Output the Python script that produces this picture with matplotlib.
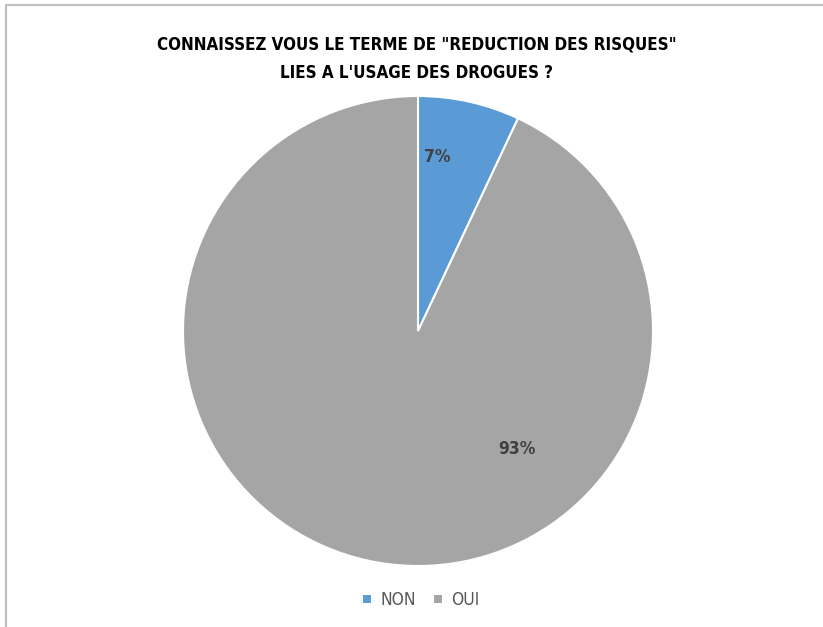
import matplotlib.pyplot as plt
from matplotlib.patches import Rectangle

labels = ['NON', 'OUI']
values = [7, 93]
colors = ['#5B9BD5', '#A5A5A5']
title = 'CONNAISSEZ VOUS LE TERME DE "REDUCTION DES RISQUES"\nLIES A L\'USAGE DES DROGUES ?'

plt.rcParams['font.family'] = ['DejaVu Sans']
plt.rcParams['font.stretch'] = 'condensed'

fig = plt.figure(figsize=(8.23, 6.27), dpi=100)

# chart area border (only top and left edges show)
fig.patches.append(Rectangle((6 / 823, -0.1), 1.2, (627 - 5) / 627 + 0.1,
                             transform=fig.transFigure, fill=False,
                             edgecolor='#BFBFBF', linewidth=1.5))

ax = fig.add_axes([(418 - 235) / 823, (627 - 331 - 235) / 627, 470 / 823, 470 / 627])
wedges, texts, autotexts = ax.pie(
    values, colors=colors, startangle=90, counterclock=False,
    autopct='%1.0f%%', pctdistance=0.74,
    wedgeprops=dict(edgecolor='white', linewidth=1.5),
    textprops=dict(color='#404040', fontsize=12.5, fontweight='bold'))
# Excel "best fit" label placement
autotexts[0].set_position((0.08, 0.74))
autotexts[1].set_position((0.42, -0.50))
ax.set_xlim(-1, 1)
ax.set_ylim(-1, 1)
ax.set_aspect('equal')

fig.text(417 / 823, 1 - 59 / 627, title, ha='center', va='center',
         fontsize=12.2, fontweight='bold', color='#000000', linespacing=1.75)

fig.legend(wedges, labels, loc='center', bbox_to_anchor=(421 / 823, 1 - 600 / 627),
           ncol=2, frameon=False, fontsize=12.5, handlelength=0.55, handleheight=0.55,
           handletextpad=0.5, columnspacing=1.0, labelcolor='#595959')

fig.savefig('out.png', dpi=100)
